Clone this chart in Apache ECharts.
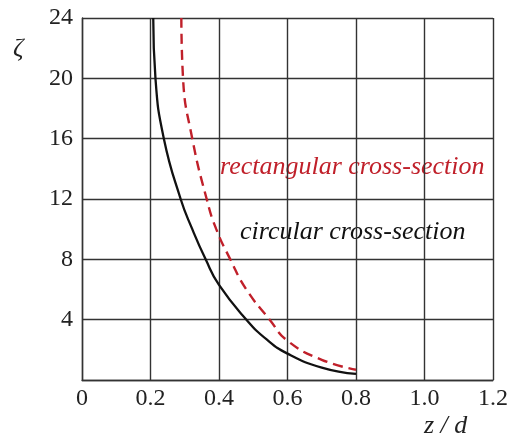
<!DOCTYPE html>
<html>
<head>
<meta charset="utf-8">
<script src="https://cdn.jsdelivr.net/npm/echarts@6/dist/echarts.min.js"></script>
<style>
  html, body { margin: 0; padding: 0; background: #fff; }
  #chart { width: 511px; height: 441px; }
</style>
</head>
<body>
<div id="chart"></div>
<script>
// circular cross-section (solid black)
const circZ = [0.208, 0.2145, 0.239, 0.288, 0.322, 0.361, 0.40, 0.48, 0.54, 0.60, 0.70, 0.80]
const circZeta = [24, 20, 16, 12, 10, 8, 6.3, 4, 2.67, 1.75, 0.82, 0.4]

// rectangular cross-section (dashed red)
const rectZ = [0.29, 0.295, 0.322, 0.364, 0.392, 0.433, 0.48, 0.548, 0.60, 0.70, 0.80]
const rectZeta = [24, 20, 16, 12, 10, 8, 6, 4, 2.6, 1.34, 0.68]

const serif = '"Liberation Serif", "DejaVu Serif", serif'
const gridColor = '#333'
const red = '#c0202a'

const pairs = (xs, ys) => xs.map((x, i) => [x, ys[i]])

const chart = echarts.init(document.getElementById('chart'))

chart.setOption({
  animation: false,
  grid: { left: 82, right: 18, top: 18, bottom: 61 },
  xAxis: {
    type: 'value',
    min: 0,
    max: 1.2,
    interval: 0.2,
    axisLine: { lineStyle: { color: gridColor, width: 1.4 } },
    axisTick: { show: false },
    splitLine: { lineStyle: { color: gridColor, width: 1.4 } },
    axisLabel: {
      color: '#222',
      fontFamily: serif,
      fontSize: 24,
      margin: 7,
      formatter: v => (v === 0 ? '0' : v.toFixed(1))
    }
  },
  yAxis: {
    type: 'value',
    min: 0,
    max: 24,
    interval: 4,
    axisLine: { show: true, lineStyle: { color: gridColor, width: 1.4 } },
    axisTick: { show: false },
    splitLine: { lineStyle: { color: gridColor, width: 1.4 } },
    axisLabel: {
      color: '#222',
      fontFamily: serif,
      fontSize: 24,
      margin: 9,
      formatter: v => (v === 0 ? '' : String(v))
    }
  },
  graphic: [
    { type: 'text', left: 13, top: 36, style: { text: 'ζ', font: 'italic 26px ' + serif, fill: '#222' } },
    { type: 'text', left: 424, top: 413, style: { text: 'z / d', font: 'italic 26px ' + serif, fill: '#222' } },
    { type: 'text', left: 220, top: 154, style: { text: 'rectangular cross-section', font: 'italic 26px ' + serif, fill: red } },
    { type: 'text', left: 240, top: 219, style: { text: 'circular cross-section', font: 'italic 26px ' + serif, fill: '#111' } }
  ],
  series: [
    {
      type: 'line',
      data: pairs(circZ, circZeta),
      smooth: 0.5,
      symbol: 'none',
      lineStyle: { color: '#111', width: 2.3 }
    },
    {
      type: 'line',
      data: pairs(rectZ, rectZeta),
      smooth: 0.5,
      symbol: 'none',
      lineStyle: { color: red, width: 2.4, type: [10, 6] }
    }
  ]
})
</script>
</body>
</html>
